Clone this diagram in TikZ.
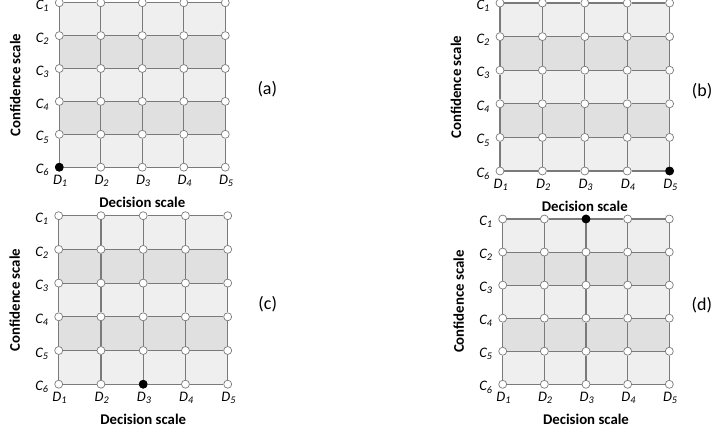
\documentclass[tikz,border=0pt]{standalone}
\usepackage{fontspec}
\setmainfont{Carlito}
\usetikzlibrary{positioning}
\definecolor{celllight}{HTML}{EFEFEF}
\definecolor{celldark}{HTML}{E0E0E0}
\definecolor{gridgray}{HTML}{7A7A7A}
\tikzset{
  pt/.style={circle, fill=white, draw=gridgray, line width=0.7pt, inner sep=0pt, minimum size=8pt},
  ptsel/.style={pt, fill=black, draw=black},
  gridline/.style={draw=gridgray, line width=1.1pt},
  scalelab/.style={font=\fontsize{14.8}{16}\selectfont\bfseries},
  idxlab/.style={font=\fontsize{14.5}{16}\selectfont\itshape, inner sep=0pt},
  panellab/.style={font=\fontsize{18}{20}\selectfont, inner sep=0pt},
}
\begin{document}
\begin{tikzpicture}[x=1pt, y=-1pt]
  \useasboundingbox (0,0) rectangle (712,434);

  \foreach \px/\py/\w/\h/\lab/\dc/\dr/\tx in {59.3/2.7/41.5/32.9/a/1/6/42,
      500/3/42.4/33.6/b/5/6/32.5, 58.7/215.7/42.25/33.7/c/3/6/40,
      502.7/219/41.65/33.06/d/3/1/32.5}{
    \begin{scope}[shift={(\px,\py)}]
      % cells
      \foreach \r/\col in {1/celllight, 2/celldark, 3/celllight, 4/celldark, 5/celllight}
        \fill[\col] (0,{(\r-1)*\h}) rectangle ({4*\w},{\r*\h});

      % grid points
      \foreach \i in {1,...,5}
        \foreach \j in {1,...,6}
          \node[pt] (\lab-\i-\j) at ({(\i-1)*\w},{(\j-1)*\h}) {};

      % grid lines
      \foreach \i in {1,...,4}
        \foreach \j in {1,...,6}{
          \pgfmathtruncatemacro\inext{\i+1}
          \draw[gridline] (\lab-\i-\j) -- (\lab-\inext-\j);
        }
      \foreach \i in {1,...,5}
        \foreach \j in {1,...,5}{
          \pgfmathtruncatemacro\jnext{\j+1}
          \draw[gridline] (\lab-\i-\j) -- (\lab-\i-\jnext);
        }

      \node[ptsel] (\lab-sel) at (\lab-\dc-\dr) {};

      % scale labels
      \foreach \j in {1,...,6}
        \node[idxlab, anchor=east] (\lab-c\j) at ([xshift=-10pt, yshift=-3pt]\lab-1-\j.center) {C\textsubscript{\j}};
      \foreach \i in {1,...,5}
        \node[idxlab, anchor=north] (\lab-d\i) at ([xshift=1pt, yshift=-8pt]\lab-\i-6.center) {D\textsubscript{\i}};

      \node[scalelab] (\lab-dec) at ([yshift=-35pt]\lab-3-6.center) {Decision scale};
      \node[scalelab, rotate=90] (\lab-conf) at (-44,{2.5*\h}) {Confidence scale};
      \node[panellab] (\lab-tag) at ({4*\w+\tx},{2.5*\h+4}) {(\lab)};
    \end{scope}
  }
\end{tikzpicture}
\end{document}
